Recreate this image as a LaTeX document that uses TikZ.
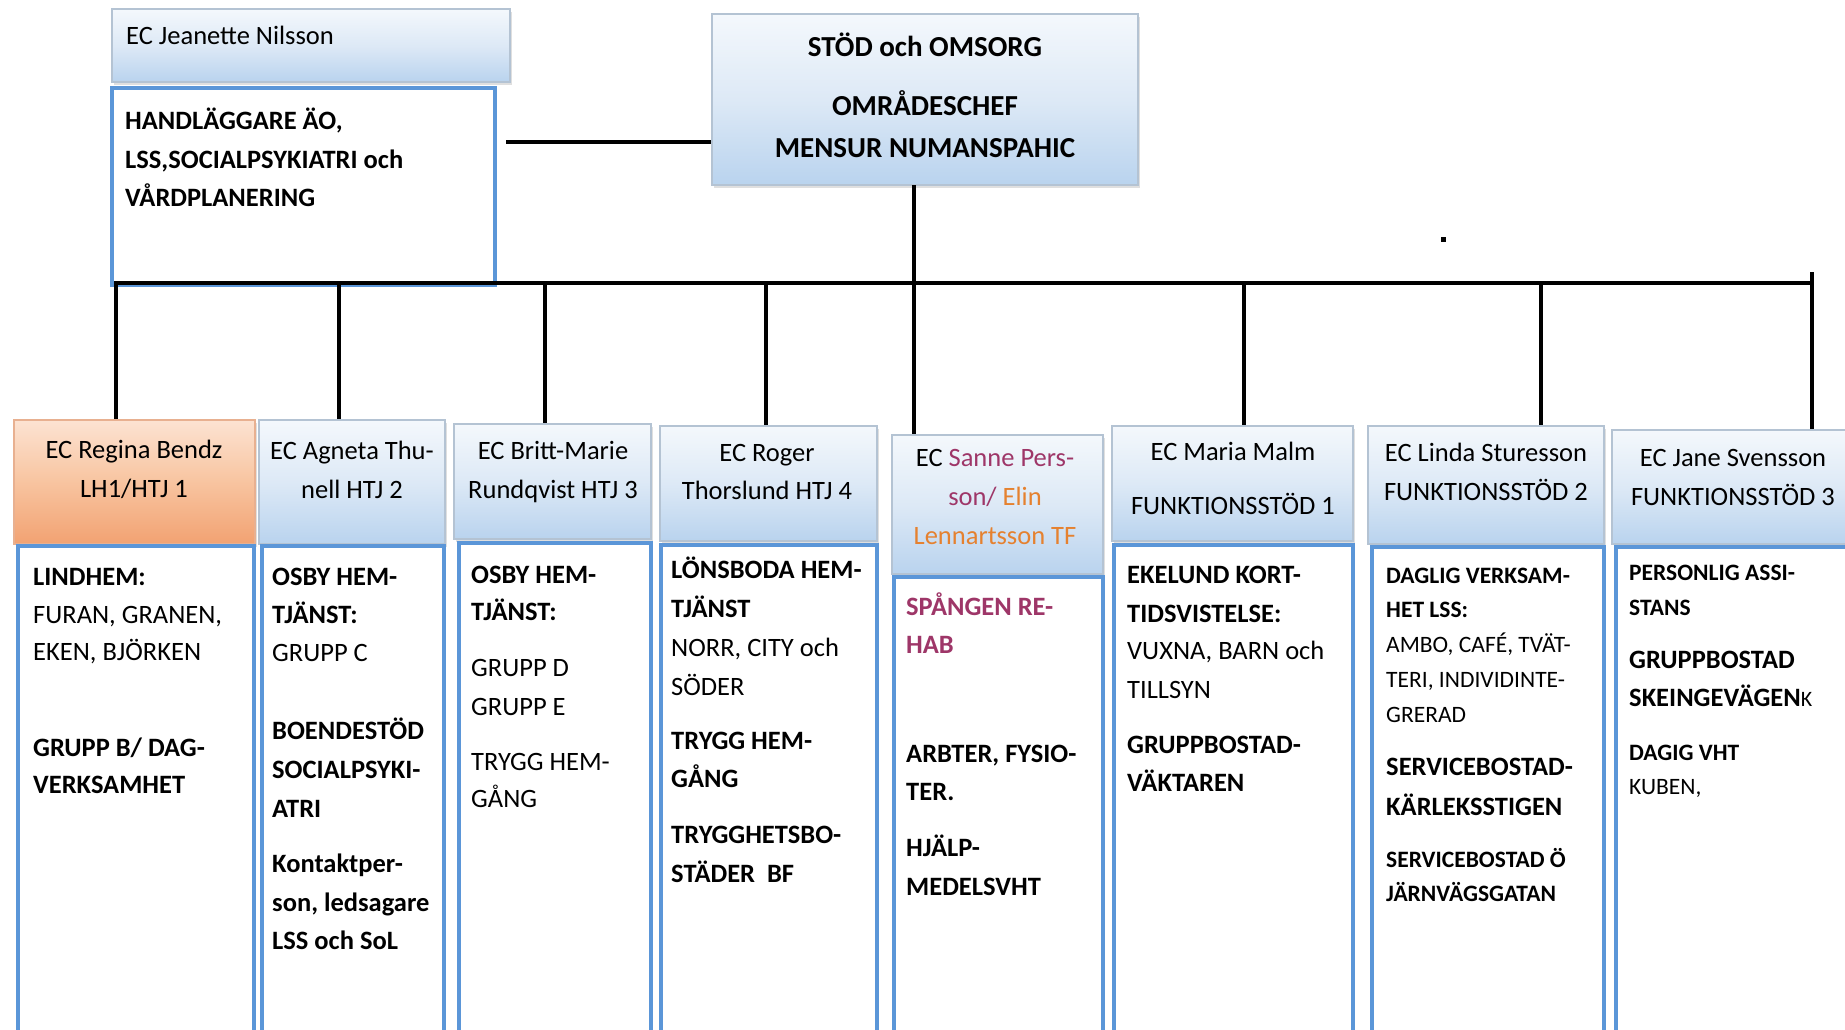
\documentclass[tikz,border=0pt]{standalone}
\usepackage{fontspec}
\setmainfont{Carlito}
\usetikzlibrary{shadows}
\definecolor{hdrtop}{HTML}{F4F8FC}
\definecolor{hdrmid}{HTML}{DDE9F6}
\definecolor{hdrbot}{HTML}{B9D3EE}
\definecolor{hdrline}{HTML}{B4C3D3}
\definecolor{orgtop}{HTML}{FCE3D2}
\definecolor{orgmid}{HTML}{F8C4A0}
\definecolor{orgbot}{HTML}{F2A272}
\definecolor{orgline}{HTML}{E8B090}
\definecolor{bodyblue}{HTML}{5B96D8}
\definecolor{plum}{HTML}{9E3668}
\definecolor{elinorange}{HTML}{E5812F}
\newcommand{\BX}[6]{\node[#2, minimum width={(#5-#3)*1pt}, minimum height={(#6-#4)*1pt}] (#1) at ({(#3+#5)/2},{(#4+#6)/2}) {};}
\newcommand{\TX}[5]{\node[#4] (#1) at (#2,#3) {#5};}
\begin{document}
\begin{tikzpicture}[x=1pt,y=-1pt,
  hdr/.style={draw=hdrline, line width=1.2pt, top color=hdrtop, bottom color=hdrbot, middle color=hdrmid, drop shadow={shadow xshift=2pt,shadow yshift=-3pt,opacity=0.25}, inner sep=0pt},
  ohdr/.style={hdr, top color=orgtop, bottom color=orgbot, middle color=orgmid, draw=orgline},
  bodybox/.style={draw=bodyblue, line width=4pt, fill=white, inner sep=0pt},
  conn/.style={line width=4.5pt, black},
  tl/.style={anchor=base west, inner sep=0pt, font=\fontsize{26.5}{30}\selectfont},
  tc/.style={anchor=base, inner sep=0pt, font=\fontsize{26.5}{30}\selectfont},
  myb/.style={font=\fontsize{26.5}{30}\selectfont\bfseries},
  mys/.style={font=\fontsize{23.5}{28}\selectfont},
  mybs/.style={font=\fontsize{23.5}{28}\selectfont\bfseries},
  mybig/.style={font=\fontsize{29}{32}\selectfont\bfseries}
]
\useasboundingbox (0,0) rectangle (1845,1029);
\clip (0,0) rectangle (1845,1029);
\fill[white] (0,0) rectangle (1845,1029);

% top level boxes
\BX{jean}{hdr}{112}{9}{510}{82}
\BX{hand}{bodybox}{112}{88}{495}{285}
\BX{top}{hdr}{712}{14}{1138}{185}

\TX{tj}{126}{44}{tl}{EC Jeanette Nilsson}
\TX{th1}{125}{129}{tl,myb}{HANDLÄGGARE ÄO,}
\TX{th2}{125}{168}{tl,myb}{LSS,SOCIALPSYKIATRI och}
\TX{th3}{125}{206}{tl,myb}{VÅRDPLANERING}
\TX{tt1}{925}{56}{tc,mybig}{STÖD och OMSORG}
\TX{tt2}{925}{115}{tc,mybig}{OMRÅDESCHEF}
\TX{tt3}{925}{157}{tc,mybig}{MENSUR NUMANSPAHIC}

% column headers
\BX{h1}{ohdr}{14}{420}{255}{544}
\BX{h2}{hdr}{259}{420}{445}{544}
\BX{h3}{hdr}{454}{424}{651}{539}
\BX{h4}{hdr}{660}{426}{877}{541}
\BX{h5}{hdr}{892}{435}{1103}{574}
\BX{h6}{hdr}{1112}{426}{1353}{541}
\BX{h7}{hdr}{1368}{426}{1604}{544}
\BX{h8}{hdr}{1612}{430}{1850}{544}

% column bodies
\BX{b1}{bodybox}{18}{546}{254}{1045}
\BX{b2}{bodybox}{262}{546}{444}{1045}
\BX{b3}{bodybox}{459}{543}{651}{1045}
\BX{b4}{bodybox}{661}{545}{877}{1045}
\BX{b5}{bodybox}{894}{577}{1103}{1045}
\BX{b6}{bodybox}{1114}{545}{1353}{1045}
\BX{b7}{bodybox}{1372}{547}{1604}{1045}
\BX{b8}{bodybox}{1616}{547}{1850}{1045}

% connectors
\coordinate (hc) at (506,142);
\draw[conn] (hc) -- (hc -| top.west);
\coordinate (tb) at (914,185);
\coordinate (busL) at (114,283);
\coordinate (busR) at (1814,283);
\draw[conn] (busL) -- (busR);
\draw[conn] (tb) -- (tb |- busL);
\coordinate (d1) at (116,283);
\coordinate (d2) at (339,283);
\coordinate (d3) at (545,283);
\coordinate (d4) at (766,283);
\coordinate (d5) at (914,283);
\coordinate (d6) at (1244,283);
\coordinate (d7) at (1541,283);
\coordinate (d8) at (1812,272);
\draw[conn] (d1) -- (d1 |- h1.north);
\draw[conn] (d2) -- (d2 |- h2.north);
\draw[conn] (d3) -- (d3 |- h3.north);
\draw[conn] (d4) -- (d4 |- h4.north);
\draw[conn] (d5) -- (d5 |- h5.north);
\draw[conn] (d6) -- (d6 |- h6.north);
\draw[conn] (d7) -- (d7 |- h7.north);
\draw[conn] (d8) -- (d8 |- h8.north);
\fill (1441,237) rectangle (1446,242);

% header texts
\TX{x1a}{134}{458}{tc}{EC Regina Bendz}
\TX{x1b}{134}{497}{tc}{LH1/HTJ 1}
\TX{x2a}{352}{459}{tc}{EC Agneta Thu-}
\TX{x2b}{352}{498}{tc}{nell HTJ 2}
\TX{x3a}{553}{459}{tc}{EC Britt-Marie}
\TX{x3b}{553}{498}{tc}{Rundqvist HTJ 3}
\TX{x4a}{767}{461}{tc}{EC Roger}
\TX{x4b}{767}{499}{tc}{Thorslund HTJ 4}
\TX{x5a}{995}{466}{tc}{EC \textcolor{plum}{Sanne Pers-}}
\TX{x5b}{995}{505}{tc}{\textcolor{plum}{son/} \textcolor{elinorange}{Elin}}
\TX{x5c}{995}{544}{tc}{\textcolor{elinorange}{Lennartsson TF}}
\TX{x6a}{1233}{460}{tc}{EC Maria Malm}
\TX{x6b}{1233}{514}{tc}{FUNKTIONSSTÖD 1}
\TX{x7a}{1486}{461}{tc}{EC Linda Sturesson}
\TX{x7b}{1486}{500}{tc}{FUNKTIONSSTÖD 2}
\TX{x8a}{1733}{466}{tc}{EC Jane Svensson}
\TX{x8b}{1733}{505}{tc}{FUNKTIONSSTÖD 3}

% column 1
\TX{a1}{33}{585}{tl,myb}{LINDHEM:}
\TX{a2}{33}{623}{tl}{FURAN, GRANEN,}
\TX{a3}{33}{660}{tl}{EKEN, BJÖRKEN}
\TX{a4}{33}{756}{tl,myb}{GRUPP B/ DAG-}
\TX{a5}{33}{793}{tl,myb}{VERKSAMHET}
% column 2
\TX{c1}{272}{585}{tl,myb}{OSBY HEM-}
\TX{c2}{272}{623}{tl,myb}{TJÄNST:}
\TX{c3}{272}{661}{tl}{GRUPP C}
\TX{c4}{272}{739}{tl,myb}{BOENDESTÖD}
\TX{c5}{272}{778}{tl,myb}{SOCIALPSYKI-}
\TX{c6}{272}{817}{tl,myb}{ATRI}
\TX{c7}{272}{872}{tl,myb}{Kontaktper-}
\TX{c8}{272}{911}{tl,myb}{son, ledsagare}
\TX{c9}{272}{949}{tl,myb}{LSS och SoL}
% column 3
\TX{e1}{471}{583}{tl,myb}{OSBY HEM-}
\TX{e2}{471}{620}{tl,myb}{TJÄNST:}
\TX{e3}{471}{676}{tl}{GRUPP D}
\TX{e4}{471}{715}{tl}{GRUPP E}
\TX{e5}{471}{770}{tl}{TRYGG HEM-}
\TX{e6}{471}{807}{tl}{GÅNG}
% column 4
\TX{f1}{671}{578}{tl,myb}{LÖNSBODA HEM-}
\TX{f2}{671}{617}{tl,myb}{TJÄNST}
\TX{f3}{671}{656}{tl}{NORR, CITY och}
\TX{f4}{671}{695}{tl}{SÖDER}
\TX{f5}{671}{749}{tl,myb}{TRYGG HEM-}
\TX{f6}{671}{787}{tl,myb}{GÅNG}
\TX{f7}{671}{843}{tl,myb}{TRYGGHETSBO-}
\TX{f8}{671}{882}{tl,myb}{STÄDER\ \ BF}
% column 5
\TX{g1}{906}{615}{tl,myb,text=plum}{SPÅNGEN RE-}
\TX{g2}{906}{653}{tl,myb,text=plum}{HAB}
\TX{g3}{906}{762}{tl,myb}{ARBTER, FYSIO-}
\TX{g4}{906}{800}{tl,myb}{TER.}
\TX{g5}{906}{856}{tl,myb}{HJÄLP-}
\TX{g6}{906}{895}{tl,myb}{MEDELSVHT}
% column 6
\TX{k1}{1127}{583}{tl,myb}{EKELUND KORT-}
\TX{k2}{1127}{622}{tl,myb}{TIDSVISTELSE:}
\TX{k3}{1127}{659}{tl}{VUXNA, BARN och}
\TX{k4}{1127}{698}{tl}{TILLSYN}
\TX{k5}{1127}{753}{tl,myb}{GRUPPBOSTAD-}
\TX{k6}{1127}{791}{tl,myb}{VÄKTAREN}
% column 7
\TX{m1}{1386}{583}{tl,mybs}{DAGLIG VERKSAM-}
\TX{m2}{1386}{617}{tl,mybs}{HET LSS:}
\TX{m3}{1386}{652}{tl,mys}{AMBO, CAFÉ, TVÄT-}
\TX{m4}{1386}{687}{tl,mys}{TERI, INDIVIDINTE-}
\TX{m5}{1386}{722}{tl,mys}{GRERAD}
\TX{m6}{1386}{775}{tl,myb}{SERVICEBOSTAD-}
\TX{m7}{1386}{815}{tl,myb}{KÄRLEKSSTIGEN}
\TX{m8}{1386}{867}{tl,mybs}{SERVICEBOSTAD Ö}
\TX{m9}{1386}{901}{tl,mybs}{JÄRNVÄGSGATAN}
% column 8
\TX{n1}{1629}{580}{tl,mybs}{PERSONLIG ASSI-}
\TX{n2}{1629}{615}{tl,mybs}{STANS}
\TX{n3}{1629}{668}{tl,myb}{GRUPPBOSTAD}
\TX{n4}{1629}{706}{tl}{\textbf{SKEINGEVÄGEN}{\fontsize{22}{26}\selectfont K}}
\TX{n5}{1629}{760}{tl,mybs}{DAGIG VHT}
\TX{n6}{1629}{794}{tl,mys}{KUBEN,}
\end{tikzpicture}
\end{document}
